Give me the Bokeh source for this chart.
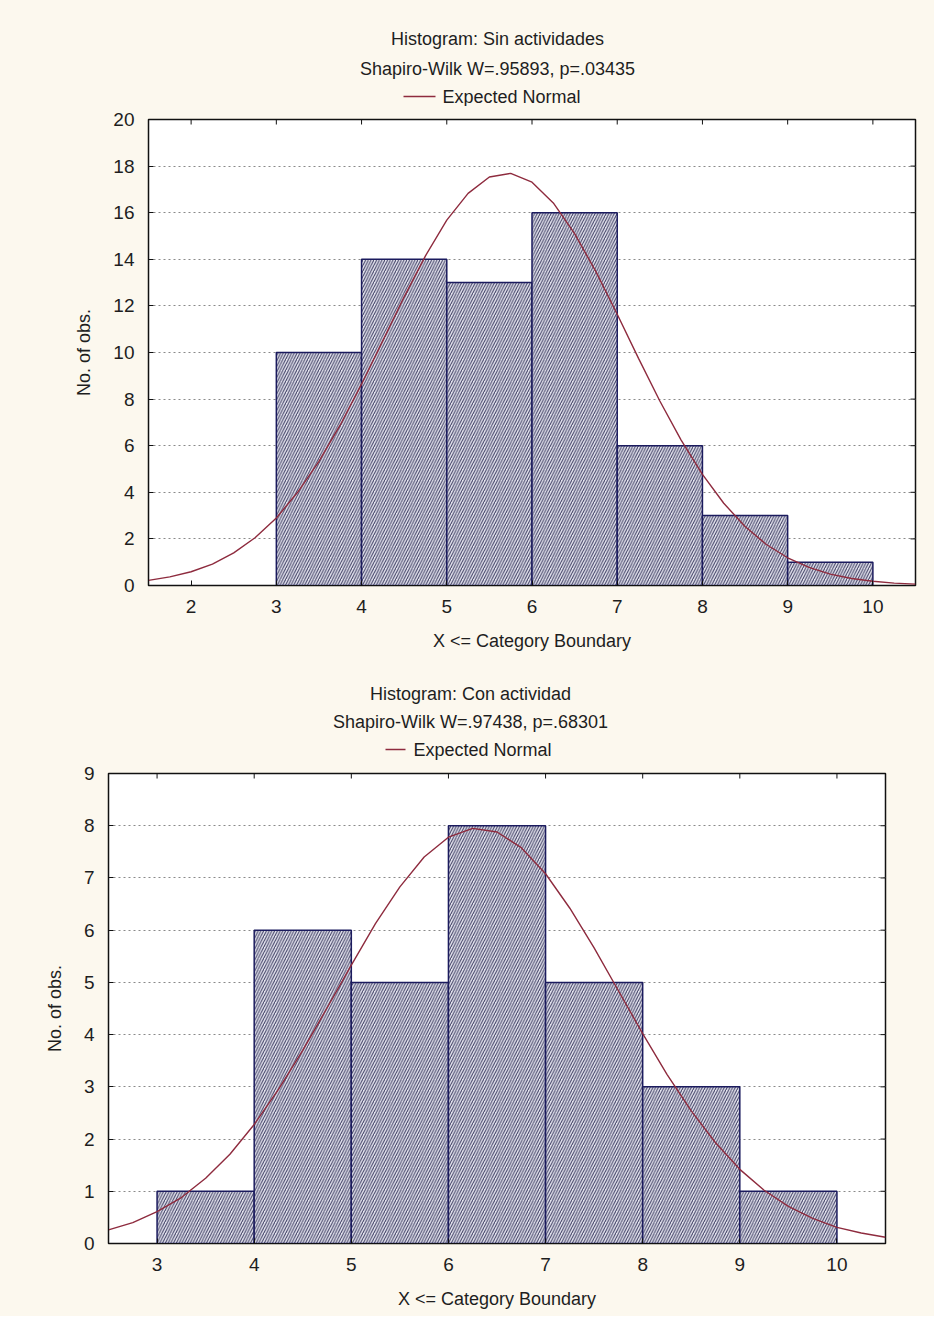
from bokeh.plotting import figure
from bokeh.layouts import column
from bokeh.models import SingleIntervalTicker, Range1d
from bokeh.core.properties import value
from bokeh.embed import file_html
from bokeh.resources import INLINE

# ---------------- data ----------------
# Top: Sin actividades
top_left_edges = [3, 4, 5, 6, 7, 8, 9]
top_right_edges = [4, 5, 6, 7, 8, 9, 10]
top_counts = [10, 14, 13, 16, 6, 3, 1]
top_curve_x = [1.5, 1.75, 2.0, 2.25, 2.5, 2.75, 3.0, 3.25, 3.5, 3.75, 4.0, 4.25, 4.5, 4.75,
               5.0, 5.25, 5.5, 5.75, 6.0, 6.25, 6.5, 6.75, 7.0, 7.25, 7.5, 7.75, 8.0, 8.25,
               8.5, 8.75, 9.0, 9.25, 9.5, 9.75, 10.0, 10.25, 10.5]
top_curve_y = [0.22, 0.37, 0.59, 0.92, 1.40, 2.05, 2.90, 4.00, 5.33, 6.89, 8.64, 10.51, 12.39,
               14.15, 15.68, 16.83, 17.53, 17.69, 17.31, 16.42, 15.10, 13.47, 11.64, 9.75, 7.92,
               6.24, 4.77, 3.53, 2.53, 1.76, 1.19, 0.78, 0.49, 0.30, 0.18, 0.10, 0.06]
top_x_ticks = [2, 3, 4, 5, 6, 7, 8, 9, 10]
top_y_ticks = [0, 2, 4, 6, 8, 10, 12, 14, 16, 18, 20]
top_title = "Histogram: Sin actividades"
top_subtitle = "Shapiro-Wilk W=.95893, p=.03435"

# Bottom: Con actividad
bot_left_edges = [3, 4, 5, 6, 7, 8, 9]
bot_right_edges = [4, 5, 6, 7, 8, 9, 10]
bot_counts = [1, 6, 5, 8, 5, 3, 1]
bot_curve_x = [2.5, 2.75, 3.0, 3.25, 3.5, 3.75, 4.0, 4.25, 4.5, 4.75, 5.0, 5.25, 5.5, 5.75,
               6.0, 6.25, 6.5, 6.75, 7.0, 7.25, 7.5, 7.75, 8.0, 8.25, 8.5, 8.75, 9.0, 9.25,
               9.5, 9.75, 10.0, 10.25, 10.5]
bot_curve_y = [0.26, 0.40, 0.61, 0.88, 1.25, 1.71, 2.28, 2.95, 3.70, 4.51, 5.33, 6.13, 6.83,
               7.40, 7.78, 7.95, 7.88, 7.58, 7.08, 6.42, 5.66, 4.84, 4.02, 3.24, 2.54, 1.93,
               1.42, 1.02, 0.71, 0.48, 0.31, 0.20, 0.12]
bot_x_ticks = [3, 4, 5, 6, 7, 8, 9, 10]
bot_y_ticks = [0, 1, 2, 3, 4, 5, 6, 7, 8, 9]
bot_title = "Histogram: Con actividad"
bot_subtitle = "Shapiro-Wilk W=.97438, p=.68301"

legend_text = "Expected Normal"
x_label = "X <= Category Boundary"
y_label = "No. of obs."

FONT = "Liberation Sans"
FS = "19px"
TFS = "18px"
BG = "#fcf8ee"
CURVE = "#8e2b3e"
TXT = "#1e1e1e"
W = 934


def header(height, title, subtitle, tx, ty1, ty2, ly, line_x, text_x):
    h = figure(width=W, height=height, x_range=Range1d(0, W), y_range=Range1d(height, 0),
               output_backend="svg", toolbar_location=None,
               min_border=0, min_border_left=0, min_border_right=0,
               min_border_top=0, min_border_bottom=0, frame_align=False)
    h.axis.visible = False
    h.grid.visible = False
    h.outline_line_color = None
    h.background_fill_color = BG
    h.border_fill_color = BG
    h.text(x=[tx, tx], y=[ty1, ty2], text=[title, subtitle],
           text_align="center", text_baseline="middle",
           text_font=value(FONT), text_font_size=TFS, text_color=TXT)
    h.line(x=list(line_x), y=[ly, ly], line_color=CURVE, line_width=1.5)
    h.text(x=[text_x], y=[ly], text=[legend_text], text_align="left", text_baseline="middle",
           text_font=value(FONT), text_font_size=TFS, text_color=TXT)
    return h


def make(height, xr, yr, y_interval, borders, lefts, rights, counts, cx, cy,
         xticks, yticks, y_std, x_std):
    bl, br, bt, bb = borders
    p = figure(width=W, height=height, x_range=Range1d(*xr), y_range=Range1d(*yr),
               output_backend="svg", toolbar_location=None, frame_align=False,
               min_border_left=bl, min_border_right=br, min_border_top=bt, min_border_bottom=bb)
    p.background_fill_color = "white"
    p.border_fill_color = BG
    p.outline_line_color = "#111111"
    p.outline_line_width = 1.5

    p.xgrid.visible = False
    p.ygrid.grid_line_color = "#8a8a8a"
    p.ygrid.grid_line_dash = "2 3"
    p.ygrid.grid_line_width = 1

    p.xaxis.ticker = SingleIntervalTicker(interval=1)
    p.yaxis.ticker = SingleIntervalTicker(interval=y_interval)
    for ax in (p.xaxis[0], p.yaxis[0]):
        ax.major_tick_in = 5
        ax.major_tick_out = 0
        ax.major_tick_line_color = "#111111"
        ax.minor_tick_line_color = None
        ax.axis_line_color = "#111111"
        ax.major_label_text_font = FONT
        ax.major_label_text_font_size = FS
        ax.major_label_text_color = TXT
        ax.axis_label_text_font = FONT
        ax.axis_label_text_font_size = TFS
        ax.axis_label_text_font_style = "normal"
        ax.axis_label_text_color = TXT
    p.xaxis.major_label_standoff = 10
    p.yaxis.major_label_standoff = 10
    p.xaxis.axis_label = x_label
    p.yaxis.axis_label = y_label
    p.xaxis.axis_label_standoff = x_std
    p.yaxis.axis_label_standoff = y_std

    p.quad(left=lefts, right=rights, top=counts, bottom=0,
           fill_color="#e4e4ee", fill_alpha=1.0,
           hatch_pattern="right_diagonal_line", hatch_color="#3a3a60",
           hatch_scale=5.5, hatch_weight=1.0,
           line_color="#1b1b5e", line_width=1.5)
    p.line(cx, cy, line_color=CURVE, line_width=1.4)

    # inward tick marks on the top and right sides of the frame
    fw = W - bl - br
    fh = height - bt - bb
    dy = (yr[1] - yr[0]) / fh * 5
    dx = (xr[1] - xr[0]) / fw * 5
    p.segment(x0=xticks, x1=xticks, y0=[yr[1]] * len(xticks), y1=[yr[1] - dy] * len(xticks),
              line_color="#111111", line_width=1)
    p.segment(x0=[xr[1]] * len(yticks), x1=[xr[1] - dx] * len(yticks), y0=yticks, y1=yticks,
              line_color="#111111", line_width=1)
    return p


h1 = header(106, top_title, top_subtitle, 497, 38, 68, 96, (403, 435), 442)
p1 = make(554, (1.5, 10.5), (0, 20), 2, (148, 19, 13, 75),
          top_left_edges, top_right_edges, top_counts, top_curve_x, top_curve_y,
          top_x_ticks, top_y_ticks, 16, 15)
h2 = header(100, bot_title, bot_subtitle, 470, 33, 61, 89, (385, 405), 413)
p2 = make(556, (2.5, 10.5), (0, 9), 1, (108, 49, 13, 73),
          bot_left_edges, bot_right_edges, bot_counts, bot_curve_x, bot_curve_y,
          bot_x_ticks, bot_y_ticks, 16, 15)

layout = column(h1, p1, h2, p2, spacing=0, styles={"background-color": BG})

open("out.html", "w").write(file_html(layout, INLINE))
